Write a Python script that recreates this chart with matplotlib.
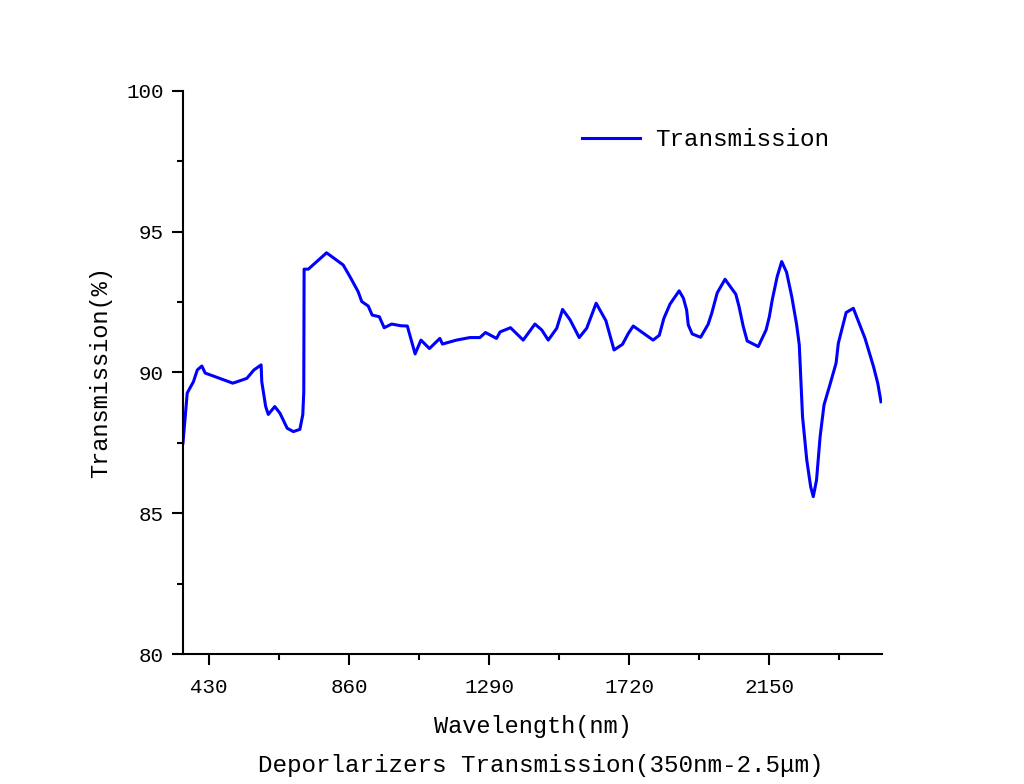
import matplotlib
matplotlib.use("Agg")
import matplotlib.pyplot as plt
from matplotlib.ticker import MultipleLocator

# wavelength (nm) and transmission (%)
wavelength = [350, 363, 382, 394, 408, 418, 503, 546, 568, 590, 592, 604, 612, 632, 648,
              670, 689, 709, 718, 721, 722, 735, 791, 842, 863, 888, 899, 919, 931, 953,
              968, 991, 1019, 1039, 1063, 1081, 1107, 1139, 1147, 1190, 1231, 1262, 1279,
              1313, 1324, 1356, 1395, 1431, 1452, 1472, 1498, 1516, 1539, 1567, 1590, 1619,
              1649, 1674, 1700, 1718, 1733, 1794, 1813, 1827, 1846, 1874, 1887, 1897, 1902,
              1914, 1940, 1963, 1974, 1991, 2015, 2048, 2058, 2071, 2083, 2117, 2141, 2151,
              2160, 2175, 2189, 2204, 2220, 2235, 2243, 2253, 2266, 2278, 2286, 2296, 2307,
              2319, 2337, 2356, 2363, 2387, 2409, 2445, 2471, 2484, 2494]
transmission = [87.5, 89.27, 89.67, 90.09, 90.23, 89.98, 89.62, 89.79, 90.09, 90.27, 89.67,
                88.79, 88.51, 88.79, 88.55, 88.02, 87.90, 87.98, 88.5, 89.3, 93.67, 93.67,
                94.25, 93.82, 93.40, 92.87, 92.52, 92.36, 92.04, 91.98, 91.59, 91.72, 91.66,
                91.65, 90.66, 91.15, 90.85, 91.21, 91.01, 91.15, 91.24, 91.24, 91.42, 91.21,
                91.44, 91.59, 91.15, 91.72, 91.51, 91.15, 91.57, 92.24, 91.87, 91.24, 91.57,
                92.46, 91.84, 90.80, 91.00, 91.39, 91.65, 91.15, 91.32, 91.92, 92.43, 92.90,
                92.64, 92.22, 91.69, 91.37, 91.25, 91.71, 92.10, 92.83, 93.31, 92.78, 92.34,
                91.63, 91.12, 90.92, 91.51, 91.98, 92.58, 93.40, 93.94, 93.56, 92.69, 91.69,
                90.98, 88.43, 86.89, 85.94, 85.59, 86.18, 87.72, 88.85, 89.56, 90.33, 91.04,
                92.13, 92.28, 91.21, 90.21, 89.62, 88.96]

plt.rcParams['font.family'] = ['Liberation Mono', 'DejaVu Sans Mono']

fig = plt.figure(figsize=(10.24, 7.84), dpi=100)
ax = fig.add_axes([0.1787, 0.1658, 0.6826, 0.7182])

ax.plot(wavelength, transmission, color="#0000ff", linewidth=2.2, label="Transmission")

ax.set_xlim(350, 2497)
ax.set_ylim(80, 100)
ax.xaxis.set_major_locator(MultipleLocator(430))
ax.xaxis.set_minor_locator(MultipleLocator(215))
ax.yaxis.set_major_locator(MultipleLocator(5))
ax.yaxis.set_minor_locator(MultipleLocator(2.5))
ax.set_xticks([430, 860, 1290, 1720, 2150])

for side in ["top", "right"]:
    ax.spines[side].set_visible(False)
for side in ["left", "bottom"]:
    ax.spines[side].set_linewidth(1.5)

ax.tick_params(which="major", direction="out", length=8, width=1.5, labelsize=15)
ax.tick_params(axis="x", which="major", pad=9)
ax.tick_params(axis="y", which="major", pad=6)
ax.tick_params(which="minor", direction="out", length=4, width=1.5)

ax.set_xlabel("Wavelength(nm)", fontsize=17, labelpad=13)
ax.set_ylabel("Transmission(%)", fontsize=17, labelpad=10)

ax.legend(loc="center left", bbox_to_anchor=(0.571, 0.913), frameon=False,
          fontsize=17.5, handlelength=2.4, handletextpad=0.6, borderpad=0, borderaxespad=0)

fig.text(0.528, 0.024, "Deporlarizers Transmission(350nm-2.5\u03bcm)", fontsize=17.5,
         ha="center", va="center")

fig.savefig("out.png", dpi=100)
